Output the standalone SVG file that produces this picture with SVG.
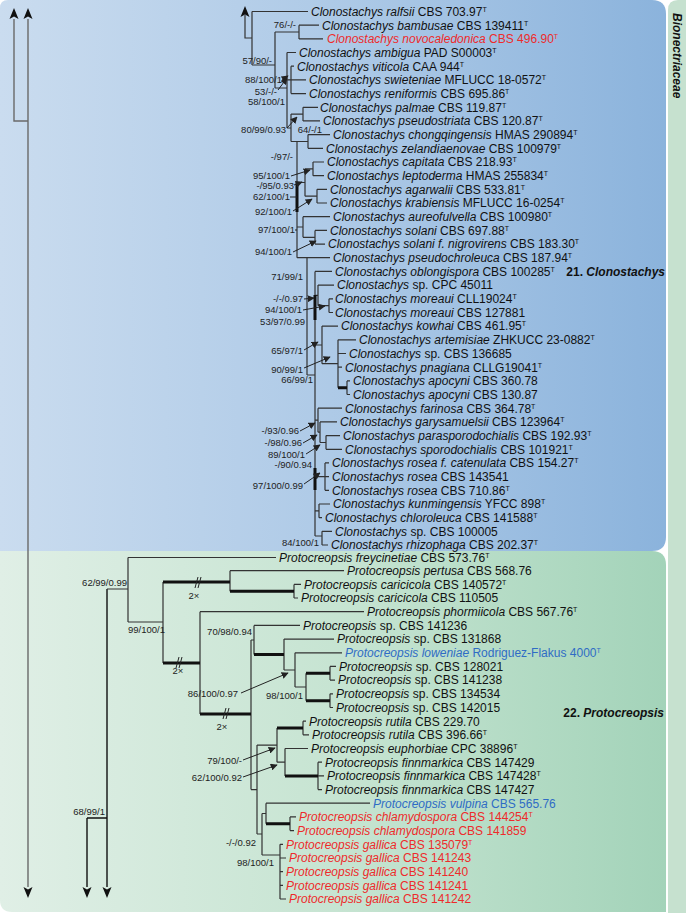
<svg xmlns="http://www.w3.org/2000/svg" width="686" height="913" viewBox="0 0 686 913">
<defs>
<linearGradient id="gb" gradientUnits="userSpaceOnUse" x1="0" y1="0" x2="666" y2="0"><stop offset="0" stop-color="#cadcef"/><stop offset="0.55" stop-color="#abc8e6"/><stop offset="1" stop-color="#8bb3dc"/></linearGradient>
<linearGradient id="gg" gradientUnits="userSpaceOnUse" x1="0" y1="0" x2="666" y2="0"><stop offset="0" stop-color="#e0efe6"/><stop offset="0.55" stop-color="#c4e3d0"/><stop offset="1" stop-color="#a3d3b9"/></linearGradient>
<marker id="ah" viewBox="0 0 10 10" refX="9" refY="5" markerWidth="7" markerHeight="7" markerUnits="userSpaceOnUse" orient="auto"><path d="M0,0 L10,5 L0,10 z" fill="#222"/></marker>
</defs>
<style>
.b{fill:none;stroke:#333;stroke-width:1.2}
.k{fill:none;stroke:#111;stroke-width:3}
.gl{fill:none;stroke:#6a6a6a;stroke-width:1.4}
.bl{fill:none;stroke:#111;stroke-width:1.4}
.ar{fill:none;stroke:#222;stroke-width:1;marker-end:url(#ah)}
.ln{fill:none;stroke:#222;stroke-width:1}
.hd{fill:#111}
.tx{font-family:"Liberation Sans",Arial,sans-serif;font-size:12px;fill:#111}
.i{font-style:italic}
.s{font-size:7px}
.red{fill:#ee2b2b}
.blue{fill:#2f6cc5}
.bs{font-family:"Liberation Sans",Arial,sans-serif;font-size:9.5px;fill:#222;text-anchor:end}
.mk{font-family:"Liberation Sans",Arial,sans-serif;font-size:9.5px;fill:#222;text-anchor:middle}
.cl{font-family:"Liberation Sans",Arial,sans-serif;font-size:12px;font-weight:bold;fill:#111;text-anchor:end}
</style>
<rect width="686" height="913" fill="#ffffff"/>
<g id="panels">
<path d="M0,551 H652 Q666,551 666,565 V912 H12 Q0,912 0,900 Z" fill="url(#gg)"/>
<path d="M0,8 Q0,0 8,0 H652 Q666,0 666,14 V537 Q666,551 652,551 H0 Z" fill="url(#gb)"/>
<path d="M668,10 Q668,0 678,0 H686 V913 H668 Z" fill="#c6e1cf"/>
<text transform="translate(673,13) rotate(90)" class="tx" font-weight="bold" font-style="italic">Bionectriaceae</text>
</g>
<g id="connectors">
<path class="gl" d="M14,19 V121 H28 M28,19 V887"/>
<path class="bl" d="M107,589 V887 M87,818 H107 M87,818 V887"/>
<path class="hd" d="M14,8 L18.5,19 L14,16.5 L9.5,19 Z M28,8 L32.5,19 L28,16.5 L23.5,19 Z M28,898 L32.5,887 L28,889.5 L23.5,887 Z M87,898 L91.5,887 L87,889.5 L82.5,887 Z M107,898 L111.5,887 L107,889.5 L102.5,887 Z M245,6 L249.5,17 L245,14.5 L240.5,17 Z"/>
<path class="b" d="M245,15 V38 H252 M252,11.5 V65 M252,11.5 H308 M252,65 H275 M275,32 V88 M275,32 H299 M299,25.2 V38.9 M299,25.2 H319 M299,38.9 H323 M275,88 H287 M287,52.5 V128 M287,52.5 H296 M287,79.9 H291 M291,66.2 V93.6 M291,66.2 H294 M291,79.9 H306 M291,93.6 H306 M287,128 H291 M291,114.1 V141.5 M291,114.1 H303 M303,107.3 V120.9 M303,107.3 H318 M303,120.9 H320 M291,141.5 H308 M308,134.6 V148.3 M308,134.6 H330 M308,148.3 H323 M297,141.5 V257.7 M297,182.5 H305 M305,168.9 V196.2 M305,168.9 H313 M313,162 V175.7 M313,162 H324 M313,175.7 H324 M305,196.2 H317 M317,189.3 V203 M317,189.3 H327 M317,203 H327 M297,227 H303 M303,216.7 V237.3 M303,216.7 H330 M303,237.3 H315 M315,230.4 V244.1 M315,230.4 H327 M315,244.1 H325 M297,257.7 H330 M307,257.7 V375 M307,375 H315 M315,271.4 V536 M315,271.4 H332 M315,295.4 H318 M318,285.1 V305.7 M318,285.1 H334 M318,305.7 H329 M329,298.8 V312.5 M329,298.8 H333 M329,312.5 H333 M315,345 H322 M322,326.1 V363.7 M322,326.1 H338 M322,363.7 H338 M338,339.8 V387.7 M338,339.8 H356 M338,353.5 H346 M338,367.2 H342 M347,380.9 V394.5 M347,380.9 H350 M347,394.5 H350 M315,420.1 H318 M318,408.2 V432.2 M318,408.2 H342 M318,432.2 H320 M320,421.9 V442.5 M320,421.9 H337 M320,442.5 H326 M326,435.6 V449.3 M326,435.6 H340 M326,449.3 H342 M315,476.6 H325 M325,462.9 V490.3 M325,462.9 H329 M325,476.6 H329 M325,490.3 H329 M315,510.9 H319 M319,504 V517.7 M319,504 H330 M319,517.7 H322 M315,536 H322 M322,531.3 V545 M322,531.3 H332 M322,545 H328"/>
<path class="k" d="M297,182.5 V212 M315,295 V320 M338,387.7 H347 M315,468 V490"/>
<path class="b" d="M107,589 H128 M128,557.5 V622 M128,557.5 H276 M128,622 H163 M163,582 V663 M230,570.7 V591.2 M230,570.7 H344 M294,584.4 V598 M294,584.4 H301 M294,598 H298 M200,611.7 V714 M200,611.7 H364 M251,640 V789.6 M251,640 H254 M254,625.4 V654.5 M254,625.4 H300 M284,639.1 V670 M284,639.1 H334 M284,670 H295 M295,652.8 V687 M295,652.8 H342 M295,687 H306 M306,673.3 V700.7 M330,666.4 V680.1 M330,666.4 H336 M330,680.1 H335 M330,693.8 V707.5 M330,693.8 H333 M330,707.5 H333 M251,789.6 H257 M257,745.1 V834 M257,745.1 H277 M277,728 V762.2 M303,721.2 V734.8 M303,721.2 H306 M303,734.8 H309 M277,762.2 H285 M285,748.5 V775.9 M285,748.5 H308 M318,762.2 V789.6 M318,762.2 H322 M318,775.9 H324 M318,789.6 H322 M257,834 H262 M262,813.5 V855 M262,813.5 H266 M266,803.2 V823.8 M266,803.2 H370 M290,816.9 V830.6 M290,816.9 H296 M290,830.6 H294 M262,855 H280 M280,844.3 V899 M280,844.3 H283 M280,858 H286 M280,871.6 H283 M280,885.3 H283 M280,899 H286"/>
<path class="k" d="M163,582 H230 M230,591.2 H294 M163,663 H200 M200,714 H251 M254,654.5 H284 M306,673.3 H330 M306,700.7 H330 M277,728 H303 M285,775.9 H318 M266,823.8 H290"/>
<path class="ln" stroke-width="1.2" d="M195,588 L198,577 M198,588 L201,577 M176,668 L179,657 M179,668 L182,657 M223,719 L226,708 M226,719 L229,708"/>
<path class="ar" d="M282,80 L288,76"/>
<path class="ar" d="M278,90 L287,78"/>
<path class="ar" d="M287,128 L297,117"/>
<path class="ar" d="M291,176 L310,170"/>
<path class="ar" d="M294,185 L302,182"/>
<path class="ln" d="M290,197 L297,197"/>
<path class="ar" d="M293,211 L312,199"/>
<path class="ln" d="M295,230 L297,230"/>
<path class="ar" d="M293,252 L316,241"/>
<path class="ar" d="M304,299 L314,298"/>
<path class="ar" d="M303,310 L325,306"/>
<path class="ar" d="M304,350 L318,342"/>
<path class="ar" d="M304,368 L330,357"/>
<path class="ar" d="M300,431 L315,423"/>
<path class="ar" d="M303,443 L317,435"/>
<path class="ar" d="M306,454 L320,445"/>
<path class="ar" d="M304,484 L320,473"/>
<path class="ar" d="M241,693 L288,673"/>
<path class="ar" d="M243,760 L275,748"/>
<path class="ar" d="M243,777 L277,765"/>
</g>
<g id="support">
<text class="bs" x="296" y="28.4">76/-/-</text>
<text class="bs" x="272" y="64.4">57/90/-</text>
<text class="bs" x="282" y="83.4">88/100/1</text>
<text class="bs" x="277" y="95.4">53/-/-</text>
<text class="bs" x="285" y="105.4">58/100/1</text>
<text class="bs" x="286" y="133.4">80/99/0.93</text>
<text class="bs" x="322" y="133.4">64/-/1</text>
<text class="bs" x="293" y="160.4">-/97/-</text>
<text class="bs" x="290" y="179.4">95/100/1</text>
<text class="bs" x="294" y="189.4">-/95/0.93</text>
<text class="bs" x="290" y="200.4">62/100/1</text>
<text class="bs" x="292" y="215.4">92/100/1</text>
<text class="bs" x="295" y="233.4">97/100/1</text>
<text class="bs" x="292" y="255.4">94/100/1</text>
<text class="bs" x="303" y="280.4">71/99/1</text>
<text class="bs" x="303" y="302.4">-/-/0.97</text>
<text class="bs" x="302" y="313.4">94/100/1</text>
<text class="bs" x="305" y="325.4">53/97/0.99</text>
<text class="bs" x="303" y="354.4">65/97/1</text>
<text class="bs" x="303" y="373.4">90/99/1</text>
<text class="bs" x="313" y="383.4">66/99/1</text>
<text class="bs" x="299" y="434.4">-/93/0.96</text>
<text class="bs" x="302" y="446.4">-/98/0.96</text>
<text class="bs" x="305" y="458.4">89/100/1</text>
<text class="bs" x="312" y="468.4">-/90/0.94</text>
<text class="bs" x="303" y="489.4">97/100/0.99</text>
<text class="bs" x="319" y="546.4">84/100/1</text>
<text class="bs" x="127" y="586.4">62/99/0.99</text>
<text class="bs" x="165" y="633.4">99/100/1</text>
<text class="bs" x="252" y="635.4">70/98/0.94</text>
<text class="bs" x="238" y="697.4">86/100/0.97</text>
<text class="bs" x="303" y="699.4">98/100/1</text>
<text class="bs" x="242" y="764.4">79/100/-</text>
<text class="bs" x="242" y="781.4">62/100/0.92</text>
<text class="bs" x="256" y="846.4">-/-/0.92</text>
<text class="bs" x="274" y="866.4">98/100/1</text>
<text class="bs" x="105" y="815.4">68/99/1</text>
<text class="mk" x="194" y="599">2×</text>
<text class="mk" x="178" y="674">2×</text>
<text class="mk" x="222" y="730">2×</text>
</g>
<g id="clade-labels">
<text class="cl" x="665" y="276">21. <tspan font-style="italic">Clonostachys</tspan></text>
<text class="cl" x="664" y="717">22. <tspan font-style="italic">Protocreopsis</tspan></text>
</g>
<g id="taxa">
<g id="c00"><text class="tx" x="311" y="15.8"><tspan class="i">Clonostachys ralfsii</tspan> CBS 703.97<tspan class="s" dy="-4">T</tspan></text></g>
<g id="c01"><text class="tx" x="322" y="29.5"><tspan class="i">Clonostachys bambusae</tspan> CBS 139411<tspan class="s" dy="-4">T</tspan></text></g>
<g id="c02"><text class="tx red" x="327" y="43.2"><tspan class="i">Clonostachys novocaledonica</tspan> CBS 496.90<tspan class="s" dy="-4">T</tspan></text></g>
<g id="c03"><text class="tx" x="299" y="56.8"><tspan class="i">Clonostachys ambigua</tspan> PAD S00003<tspan class="s" dy="-4">T</tspan></text></g>
<g id="c04"><text class="tx" x="297" y="70.5"><tspan class="i">Clonostachys viticola</tspan> CAA 944<tspan class="s" dy="-4">T</tspan></text></g>
<g id="c05"><text class="tx" x="309" y="84.2"><tspan class="i">Clonostachys swieteniae</tspan> MFLUCC 18-0572<tspan class="s" dy="-4">T</tspan></text></g>
<g id="c06"><text class="tx" x="309" y="97.9"><tspan class="i">Clonostachys reniformis</tspan> CBS 695.86<tspan class="s" dy="-4">T</tspan></text></g>
<g id="c07"><text class="tx" x="320" y="111.6"><tspan class="i">Clonostachys palmae</tspan> CBS 119.87<tspan class="s" dy="-4">T</tspan></text></g>
<g id="c08"><text class="tx" x="323" y="125.2"><tspan class="i">Clonostachys pseudostriata</tspan> CBS 120.87<tspan class="s" dy="-4">T</tspan></text></g>
<g id="c09"><text class="tx" x="333" y="138.9"><tspan class="i">Clonostachys chongqingensis</tspan> HMAS 290894<tspan class="s" dy="-4">T</tspan></text></g>
<g id="c10"><text class="tx" x="326" y="152.6"><tspan class="i">Clonostachys zelandiaenovae</tspan> CBS 100979<tspan class="s" dy="-4">T</tspan></text></g>
<g id="c11"><text class="tx" x="327" y="166.3"><tspan class="i">Clonostachys capitata</tspan> CBS 218.93<tspan class="s" dy="-4">T</tspan></text></g>
<g id="c12"><text class="tx" x="327" y="180"><tspan class="i">Clonostachys leptoderma</tspan> HMAS 255834<tspan class="s" dy="-4">T</tspan></text></g>
<g id="c13"><text class="tx" x="330" y="193.6"><tspan class="i">Clonostachys agarwalii</tspan> CBS 533.81<tspan class="s" dy="-4">T</tspan></text></g>
<g id="c14"><text class="tx" x="330" y="207.3"><tspan class="i">Clonostachys krabiensis</tspan> MFLUCC 16-0254<tspan class="s" dy="-4">T</tspan></text></g>
<g id="c15"><text class="tx" x="333" y="221"><tspan class="i">Clonostachys aureofulvella</tspan> CBS 100980<tspan class="s" dy="-4">T</tspan></text></g>
<g id="c16"><text class="tx" x="330" y="234.7"><tspan class="i">Clonostachys solani</tspan> CBS 697.88<tspan class="s" dy="-4">T</tspan></text></g>
<g id="c17"><text class="tx" x="328" y="248.4"><tspan class="i">Clonostachys solani f. nigrovirens</tspan> CBS 183.30<tspan class="s" dy="-4">T</tspan></text></g>
<g id="c18"><text class="tx" x="333" y="262"><tspan class="i">Clonostachys pseudochroleuca</tspan> CBS 187.94<tspan class="s" dy="-4">T</tspan></text></g>
<g id="c19"><text class="tx" x="335" y="275.7"><tspan class="i">Clonostachys oblongispora</tspan> CBS 100285<tspan class="s" dy="-4">T</tspan></text></g>
<g id="c20"><text class="tx" x="337" y="289.4"><tspan class="i">Clonostachys</tspan> sp. CPC 45011</text></g>
<g id="c21"><text class="tx" x="335" y="303.1"><tspan class="i">Clonostachys moreaui</tspan> CLL19024<tspan class="s" dy="-4">T</tspan></text></g>
<g id="c22"><text class="tx" x="335" y="316.8"><tspan class="i">Clonostachys moreaui</tspan> CBS 127881</text></g>
<g id="c23"><text class="tx" x="341" y="330.4"><tspan class="i">Clonostachys kowhai</tspan> CBS 461.95<tspan class="s" dy="-4">T</tspan></text></g>
<g id="c24"><text class="tx" x="359" y="344.1"><tspan class="i">Clonostachys artemisiae</tspan> ZHKUCC 23-0882<tspan class="s" dy="-4">T</tspan></text></g>
<g id="c25"><text class="tx" x="349" y="357.8"><tspan class="i">Clonostachys</tspan> sp. CBS 136685</text></g>
<g id="c26"><text class="tx" x="345" y="371.5"><tspan class="i">Clonostachys pnagiana</tspan> CLLG19041<tspan class="s" dy="-4">T</tspan></text></g>
<g id="c27"><text class="tx" x="353" y="385.2"><tspan class="i">Clonostachys apocyni</tspan> CBS 360.78</text></g>
<g id="c28"><text class="tx" x="353" y="398.8"><tspan class="i">Clonostachys apocyni</tspan> CBS 130.87</text></g>
<g id="c29"><text class="tx" x="345" y="412.5"><tspan class="i">Clonostachys farinosa</tspan> CBS 364.78<tspan class="s" dy="-4">T</tspan></text></g>
<g id="c30"><text class="tx" x="340" y="426.2"><tspan class="i">Clonostachys garysamuelsii</tspan> CBS 123964<tspan class="s" dy="-4">T</tspan></text></g>
<g id="c31"><text class="tx" x="343" y="439.9"><tspan class="i">Clonostachys parasporodochialis</tspan> CBS 192.93<tspan class="s" dy="-4">T</tspan></text></g>
<g id="c32"><text class="tx" x="345" y="453.6"><tspan class="i">Clonostachys sporodochialis</tspan> CBS 101921<tspan class="s" dy="-4">T</tspan></text></g>
<g id="c33"><text class="tx" x="332" y="467.2"><tspan class="i">Clonostachys rosea f. catenulata</tspan> CBS 154.27<tspan class="s" dy="-4">T</tspan></text></g>
<g id="c34"><text class="tx" x="332" y="480.9"><tspan class="i">Clonostachys rosea</tspan> CBS 143541</text></g>
<g id="c35"><text class="tx" x="332" y="494.6"><tspan class="i">Clonostachys rosea</tspan> CBS 710.86<tspan class="s" dy="-4">T</tspan></text></g>
<g id="c36"><text class="tx" x="333" y="508.3"><tspan class="i">Clonostachys kunmingensis</tspan> YFCC 898<tspan class="s" dy="-4">T</tspan></text></g>
<g id="c37"><text class="tx" x="325" y="522"><tspan class="i">Clonostachys chloroleuca</tspan> CBS 141588<tspan class="s" dy="-4">T</tspan></text></g>
<g id="c38"><text class="tx" x="335" y="535.6"><tspan class="i">Clonostachys</tspan> sp. CBS 100005</text></g>
<g id="c39"><text class="tx" x="331" y="548.8"><tspan class="i">Clonostachys rhizophaga</tspan> CBS 202.37<tspan class="s" dy="-4">T</tspan></text></g>
<g id="p40"><text class="tx" x="279" y="562.3"><tspan class="i">Protocreopsis freycinetiae</tspan> CBS 573.76<tspan class="s" dy="-4">T</tspan></text></g>
<g id="p41"><text class="tx" x="347" y="575"><tspan class="i">Protocreopsis pertusa</tspan> CBS 568.76</text></g>
<g id="p42"><text class="tx" x="304" y="588.7"><tspan class="i">Protocreopsis caricicola</tspan> CBS 140572<tspan class="s" dy="-4">T</tspan></text></g>
<g id="p43"><text class="tx" x="301" y="602.3"><tspan class="i">Protocreopsis caricicola</tspan> CBS 110505</text></g>
<g id="p44"><text class="tx" x="367" y="616"><tspan class="i">Protocreopsis phormiicola</tspan> CBS 567.76<tspan class="s" dy="-4">T</tspan></text></g>
<g id="p45"><text class="tx" x="303" y="629.7"><tspan class="i">Protocreopsis</tspan> sp. CBS 141236</text></g>
<g id="p46"><text class="tx" x="337" y="643.4"><tspan class="i">Protocreopsis</tspan> sp. CBS 131868</text></g>
<g id="p47"><text class="tx blue" x="345" y="657.1"><tspan class="i">Protocreopsis loweniae</tspan> Rodriguez-Flakus 4000<tspan class="s" dy="-4">T</tspan></text></g>
<g id="p48"><text class="tx" x="339" y="670.7"><tspan class="i">Protocreopsis</tspan> sp. CBS 128021</text></g>
<g id="p49"><text class="tx" x="338" y="684.4"><tspan class="i">Protocreopsis</tspan> sp. CBS 141238</text></g>
<g id="p50"><text class="tx" x="336" y="698.1"><tspan class="i">Protocreopsis</tspan> sp. CBS 134534</text></g>
<g id="p51"><text class="tx" x="336" y="711.8"><tspan class="i">Protocreopsis</tspan> sp. CBS 142015</text></g>
<g id="p52"><text class="tx" x="309" y="725.5"><tspan class="i">Protocreopsis rutila</tspan> CBS 229.70</text></g>
<g id="p53"><text class="tx" x="312" y="739.1"><tspan class="i">Protocreopsis rutila</tspan> CBS 396.66<tspan class="s" dy="-4">T</tspan></text></g>
<g id="p54"><text class="tx" x="311" y="752.8"><tspan class="i">Protocreopsis euphorbiae</tspan> CPC 38896<tspan class="s" dy="-4">T</tspan></text></g>
<g id="p55"><text class="tx" x="325" y="766.5"><tspan class="i">Protocreopsis finnmarkica</tspan> CBS 147429</text></g>
<g id="p56"><text class="tx" x="327" y="780.2"><tspan class="i">Protocreopsis finnmarkica</tspan> CBS 147428<tspan class="s" dy="-4">T</tspan></text></g>
<g id="p57"><text class="tx" x="325" y="793.9"><tspan class="i">Protocreopsis finnmarkica</tspan> CBS 147427</text></g>
<g id="p58"><text class="tx blue" x="373" y="807.5"><tspan class="i">Protocreopsis vulpina</tspan> CBS 565.76</text></g>
<g id="p59"><text class="tx red" x="299" y="821.2"><tspan class="i">Protocreopsis chlamydospora</tspan> CBS 144254<tspan class="s" dy="-4">T</tspan></text></g>
<g id="p60"><text class="tx red" x="297" y="834.9"><tspan class="i">Protocreopsis chlamydospora</tspan> CBS 141859</text></g>
<g id="p61"><text class="tx red" x="286" y="848.6"><tspan class="i">Protocreopsis gallica</tspan> CBS 135079<tspan class="s" dy="-4">T</tspan></text></g>
<g id="p62"><text class="tx red" x="289" y="862.3"><tspan class="i">Protocreopsis gallica</tspan> CBS 141243</text></g>
<g id="p63"><text class="tx red" x="286" y="875.9"><tspan class="i">Protocreopsis gallica</tspan> CBS 141240</text></g>
<g id="p64"><text class="tx red" x="286" y="889.6"><tspan class="i">Protocreopsis gallica</tspan> CBS 141241</text></g>
<g id="p65"><text class="tx red" x="289" y="903.3"><tspan class="i">Protocreopsis gallica</tspan> CBS 141242</text></g>
</g>
</svg>
